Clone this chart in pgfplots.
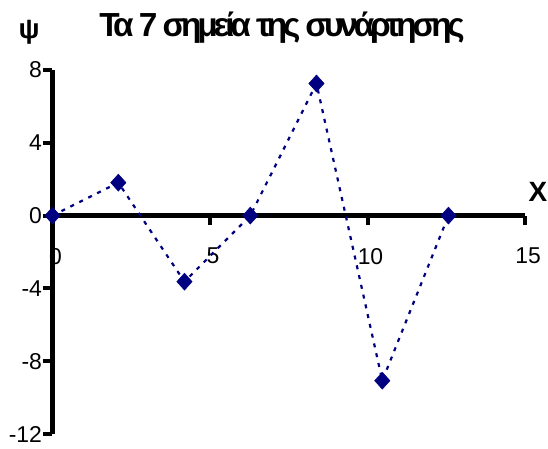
\documentclass[border=0pt]{standalone}
\usepackage{pgfplots}
\pgfplotsset{compat=1.18}
\usepackage{fontspec}
\setmainfont{Liberation Sans}
\newfontfamily\titlefont[LetterSpace=-12.5]{Liberation Sans}
\usetikzlibrary{calc}
\definecolor{navy}{RGB}{0,0,128}
\pgfdeclareplotmark{mydiamond}{%
  \pgfpathmoveto{\pgfqpoint{0pt}{\pgfplotmarksize}}%
  \pgfpathlineto{\pgfqpoint{0.9\pgfplotmarksize}{0pt}}%
  \pgfpathlineto{\pgfqpoint{0pt}{-\pgfplotmarksize}}%
  \pgfpathlineto{\pgfqpoint{-0.9\pgfplotmarksize}{0pt}}%
  \pgfpathclose\pgfusepathqfillstroke}
\begin{document}
\begin{tikzpicture}
\begin{axis}[
  scale only axis, width=472.5bp, height=364bp,
  xmin=0, xmax=15, ymin=-12, ymax=8,
  axis x line=middle, axis y line=left,
  axis line style={line width=4.5bp, black, -},
  every inner x axis line/.append style={line width=4.5bp, -},
  every outer y axis line/.append style={line width=4.5bp, -},
  xtick={0,5,10,15}, xticklabels={0,5,10,15},
  ytick={-12,-8,-4,0,4,8}, yticklabels={-12,-8,-4,0,4,8},
  hide obscured x ticks=false, hide obscured y ticks=false,
  tick align=outside, major tick length=9bp,
  tick style={line width=4bp, black},
  major tick style={line width=4bp, black},
  ticklabel style={font=\fontsize{23}{23}\selectfont},
  xticklabel style={anchor=north, yshift=-20bp, xshift=3bp},
  yticklabel style={anchor=east, xshift=2bp},
  clip=false,
]
\coordinate (sw) at (rel axis cs:0,0);
\addplot[navy, line width=2.2bp, dash pattern=on 4bp off 6bp,
  mark=mydiamond, mark size=8.5bp,
  mark options={solid, fill=navy, draw=navy, line width=0.5bp}]
  coordinates {(0,0) (2.09,1.81) (4.19,-3.63) (6.28,0) (8.38,7.26) (10.47,-9.07) (12.57,0)};
\node[anchor=base, font=\titlefont\bfseries\fontsize{33.5}{33.5}\selectfont] at (rel axis cs:0.486,1.0907) {Τα 7 σημεία της συνάρτησης};
\node[font=\bfseries\fontsize{28}{28}\selectfont] at (rel axis cs:-0.0497,1.104) {ψ};
\node[font=\bfseries\fontsize{28}{28}\selectfont] at (rel axis cs:1.0275,0.665) {X};
\end{axis}
\pgfresetboundingbox
\path[use as bounding box] ($(sw)+(-52.5bp,-15bp)$) rectangle ($(sw)+(495.5bp,434bp)$);
\end{tikzpicture}
\end{document}
